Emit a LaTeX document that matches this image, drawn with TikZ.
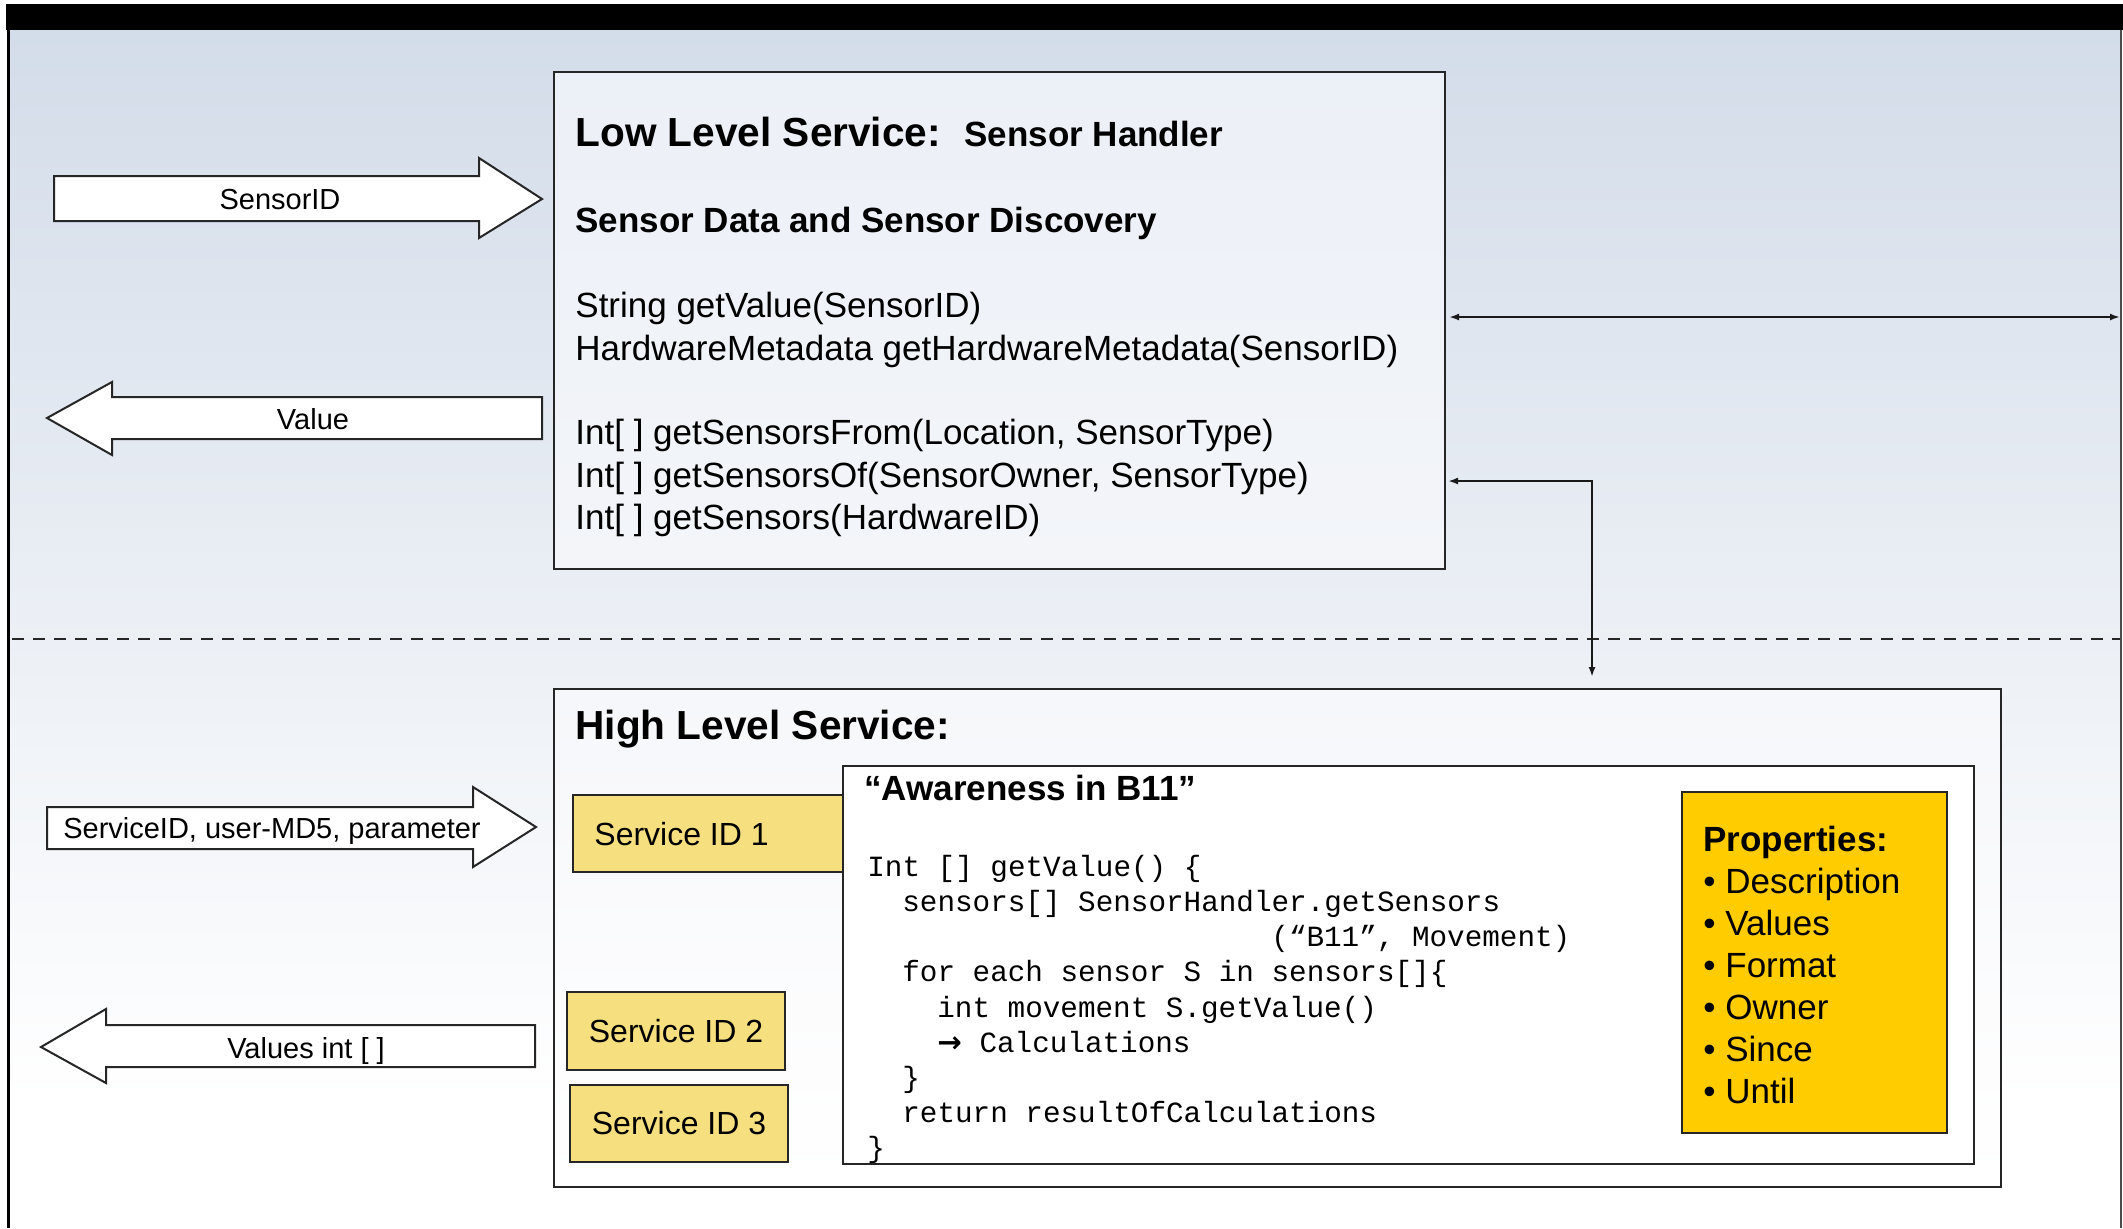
\documentclass[tikz,border=0pt]{standalone}
\usepackage{fontspec}
\setmainfont{Liberation Sans}
\newfontfamily\codefont{Liberation Mono}
\newfontfamily\symfont{DejaVu Sans}
\usetikzlibrary{arrows.meta}
\definecolor{bgtop}{RGB}{211,220,233}
\definecolor{svc}{RGB}{246,223,126}
\definecolor{prop}{RGB}{255,204,0}
\begin{document}
\begin{tikzpicture}[x=0.5pt,y=-0.5pt,
  box/.style={draw=black!85, line width=1.2pt, inner sep=0pt, outer sep=0pt, anchor=north west},
  blockarrow/.style={draw=black!85, fill=white, line width=1pt, line join=miter},
  arrlabel/.style={inner sep=0pt, anchor=base, font=\fontsize{14.5}{17}\selectfont},
  txt/.style={inner sep=0pt, anchor=base west},
  meth/.style={txt, font=\fontsize{17.5}{21}\selectfont},
  code/.style={txt, font=\codefont\fontsize{14.65}{17.6}\selectfont},
  plist/.style={txt, font=\fontsize{17.5}{21}\selectfont},
  svclabel/.style={inner sep=0pt, font=\fontsize{16}{19}\selectfont},
  conn/.style={line width=1pt, draw=black!90, arrows={Latex[length=5pt,width=3.5pt]-Latex[length=5pt,width=3.5pt]}}
]
\useasboundingbox (0,0) rectangle (2123,1228);
% background
\fill[white] (0,0) rectangle (2123,1228);
\shade[top color=bgtop, bottom color=white] (7,30) rectangle (2121,1100);
\fill[black] (6,4) rectangle (2123,30);
\draw[black, line width=1.5pt] (8,30) -- (8,1228);
\draw[black!70, line width=0.6pt] (2121,30) -- (2121,1228);
% dashed separator
\draw[black!85, line width=1.2pt, dash pattern=on 6pt off 4.5pt] (12,639) -- (2120,639);

% low level box
\node[box, top color={rgb,255:red,236;green,240;blue,247}, bottom color={rgb,255:red,243;green,245;blue,249}, minimum width=445.5pt, minimum height=248.5pt] (low) at (554,72) {};
\node[txt, font=\fontsize{20.3}{24}\selectfont\bfseries] (lowtitle) at (575,146) {Low Level Service:};
\node[txt, font=\fontsize{17.5}{21}\selectfont\bfseries] (lowsub) at (964,146) {Sensor Handler};
\node[txt, font=\fontsize{17.5}{21}\selectfont\bfseries] (lowdisc) at (575,232) {Sensor Data and Sensor Discovery};
\node[meth] (m1) at (575,317) {String getValue(SensorID)};
\node[meth] (m2) at (575,360) {HardwareMetadata getHardwareMetadata(SensorID)};
\node[meth] (m3) at (575,444) {Int[ ] getSensorsFrom(Location, SensorType)};
\node[meth] (m4) at (575,487) {Int[ ] getSensorsOf(SensorOwner, SensorType)};
\node[meth] (m5) at (575,529) {Int[ ] getSensors(HardwareID)};

% high level box
\node[box, top color={rgb,255:red,246;green,247;blue,250}, bottom color=white, minimum width=723.5pt, minimum height=249pt] (high) at (554,689) {};
\node[txt, font=\fontsize{20.3}{24}\selectfont\bfseries] (hightitle) at (575,739) {High Level Service:};

% service id boxes
\node[box, fill=svc, minimum width=135pt, minimum height=38.5pt] (s1) at (573,795) {};
\node[svclabel, anchor=west] (s1t) at (594,834) {Service ID 1};
\node[box, fill=svc, minimum width=109pt, minimum height=39pt] (s2) at (567,992) {};
\node[svclabel] (s2t) at (s2.center) {Service ID 2};
\node[box, fill=svc, minimum width=109pt, minimum height=38.5pt] (s3) at (570,1085) {};
\node[svclabel] (s3t) at (s3.center) {Service ID 3};

% awareness box
\node[box, fill=white, minimum width=565.5pt, minimum height=199pt] (aware) at (843,766) {};
\node[txt, font=\fontsize{17.5}{21}\selectfont\bfseries] (awt) at (864,800) {“Awareness in B11”};
\node[code] (c1) at (867,876) {Int [] getValue() \{};
\node[code] (c2) at (902,911) {sensors[] SensorHandler.getSensors};
\node[code] (c3) at (1271,946) {(“B11”, Movement)};
\node[code] (c4) at (902,981) {for each sensor S in sensors[]\{};
\node[code] (c5) at (937,1017) {int movement S.getValue()};
\node[code] (c6) at (937,1052) {{\symfont\bfseries →} Calculations};
\node[code] (c7) at (902,1087) {\}};
\node[code] (c8) at (902,1122) {return resultOfCalculations};
\node[code] (c9) at (867,1157) {\}};

% properties
\node[box, fill=prop, minimum width=132.5pt, minimum height=170.5pt] (prop) at (1682,792) {};
\node[plist, font=\fontsize{17.5}{21}\selectfont\bfseries] (pt) at (1703,851) {Properties:};
\node[plist] (p1) at (1703,893) {• Description};
\node[plist] (p2) at (1703,935) {• Values};
\node[plist] (p3) at (1703,977) {• Format};
\node[plist] (p4) at (1703,1019) {• Owner};
\node[plist] (p5) at (1703,1061) {• Since};
\node[plist] (p6) at (1703,1103) {• Until};

% block arrows
\draw[blockarrow] (54,176) -- (479,176) -- (479,158) -- (542,199) -- (479,238) -- (479,221) -- (54,221) -- cycle;
\node[arrlabel] (la1) at (280,209) {SensorID};
\draw[blockarrow] (542,397) -- (112,397) -- (112,382) -- (47,418) -- (112,455) -- (112,439) -- (542,439) -- cycle;
\node[arrlabel] (la2) at (313,429) {Value};
\draw[blockarrow] (47,807) -- (473,807) -- (473,787) -- (536,827) -- (473,867) -- (473,849) -- (47,849) -- cycle;
\node[arrlabel] (la3) at (272,838) {ServiceID, user-MD5, parameter};
\draw[blockarrow] (535,1025) -- (106,1025) -- (106,1009) -- (41,1047) -- (106,1083) -- (106,1067) -- (535,1067) -- cycle;
\node[arrlabel] (la4) at (306,1058) {Values int [ ]};

% connectors
\coordinate (rb) at (2120,317);
\draw[conn, shorten <=2pt] (low.east |- rb) -- (rb);
\coordinate (corner) at (1592,481);
\draw[conn, shorten <=1.5pt, shorten >=6pt] (corner -| low.east) -- (corner) -- (corner |- high.north);
\end{tikzpicture}
\end{document}
